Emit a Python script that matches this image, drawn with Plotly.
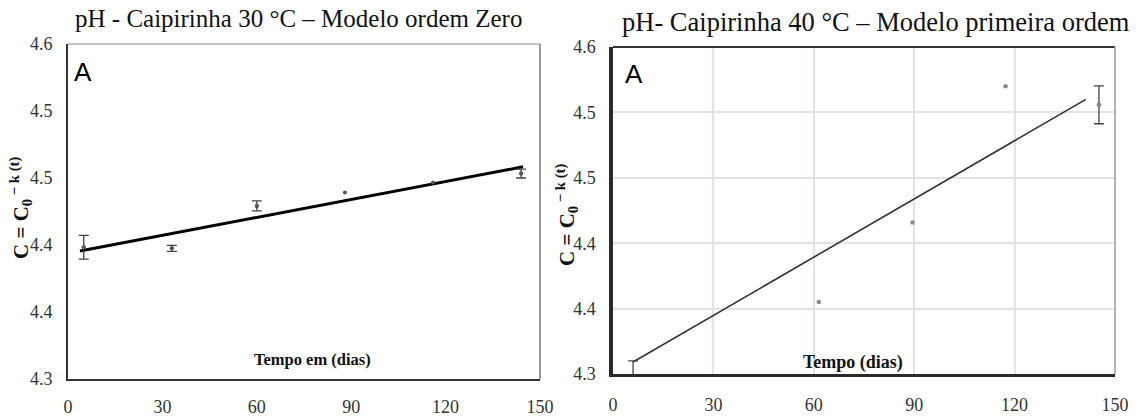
import plotly.graph_objects as go

W, H = 1143, 419

# ---------------- data ----------------
left_title = "pH - Caipirinha 30 °C – Modelo ordem Zero"
right_title = "pH- Caipirinha 40 °C – Modelo primeira ordem"

left_x = [5, 33, 60, 88, 116, 144]
left_y = [4.418, 4.417, 4.455, 4.467, 4.476, 4.484]
left_err = [0.0107, 0.0027, 0.0045, None, None, 0.004]
left_fit_x = [3.8, 144.6]
left_fit_y = [4.4146, 4.490]

right_x = [6, 61.5, 89.5, 117.3, 145.2]
right_y = [4.297, 4.366, 4.439, 4.564, 4.547]
right_err = [0.015, None, None, None, 0.0174]
right_fit_x = [6, 141.3]
right_fit_y = [4.311, 4.552]

x_ticks = [0, 30, 60, 90, 120, 150]
y_ticks = [4.30, 4.36, 4.42, 4.48, 4.54, 4.60]
y_ticktext = ["4.3", "4.4", "4.4", "4.5", "4.5", "4.6"]

left_xlabel = "Tempo em (dias)"
right_xlabel = "Tempo (dias)"
ylabel = "<b>C = C<sub>0</sub><sup> − k (t)</sup></b>"
panel_tag = "A"

SERIF = "Liberation Serif, Times New Roman, serif"
SANS = "Liberation Sans, Arial, sans-serif"


def px(p):
    return p / W


def py(p):
    return 1 - p / H


def with_err(xs, ys, es):
    keep = [i for i, e in enumerate(es) if e is not None]
    return [xs[i] for i in keep], [ys[i] for i in keep], [es[i] for i in keep]


fig = go.Figure()

# Left panel
fig.add_trace(go.Scatter(
    x=left_fit_x, y=left_fit_y, mode="lines",
    line=dict(color="#000000", width=3), xaxis="x", yaxis="y",
    showlegend=False, hoverinfo="skip"))
fig.add_trace(go.Scatter(
    x=left_x, y=left_y, mode="markers",
    marker=dict(size=4, color="#555555"),
    xaxis="x", yaxis="y", showlegend=False, cliponaxis=True))
lex, ley, lee = with_err(left_x, left_y, left_err)
fig.add_trace(go.Scatter(
    x=lex, y=ley, mode="markers",
    marker=dict(size=4, color="#555555"),
    error_y=dict(type="data", array=lee, color="#444444",
                 thickness=1.3, width=5),
    xaxis="x", yaxis="y", showlegend=False, cliponaxis=True))

# Right panel
fig.add_trace(go.Scatter(
    x=right_fit_x, y=right_fit_y, mode="lines",
    line=dict(color="#333333", width=1.6), xaxis="x2", yaxis="y2",
    showlegend=False, hoverinfo="skip"))
fig.add_trace(go.Scatter(
    x=right_x, y=right_y, mode="markers",
    marker=dict(size=4.5, color="#8a8a8a"),
    xaxis="x2", yaxis="y2", showlegend=False, cliponaxis=True))
rex, rey, ree = with_err(right_x, right_y, right_err)
fig.add_trace(go.Scatter(
    x=rex, y=rey, mode="markers",
    marker=dict(size=4.5, color="#8a8a8a"),
    error_y=dict(type="data", array=ree, color="#444444",
                 thickness=1.3, width=5),
    xaxis="x2", yaxis="y2", showlegend=False, cliponaxis=True))

tickfont = dict(family=SERIF, size=18, color="#333333")

fig.update_layout(
    width=W, height=H,
    margin=dict(l=0, r=0, t=0, b=0, autoexpand=False),
    paper_bgcolor="white", plot_bgcolor="white",
    xaxis=dict(domain=[px(68), px(540)], range=[0, 150],
               tickvals=x_ticks, showgrid=False, zeroline=False,
               showline=True, linecolor="#333333", linewidth=2,
               ticks="", tickfont=tickfont, ticklabelstandoff=10,
               anchor="y", automargin=False),
    yaxis=dict(domain=[py(379), py(44)], range=[4.3, 4.6],
               tickvals=y_ticks, ticktext=y_ticktext, showgrid=False,
               zeroline=False, showline=True, linecolor="#333333",
               linewidth=2, ticks="", tickfont=tickfont,
               ticklabelstandoff=10, anchor="x", automargin=False),
    xaxis2=dict(domain=[px(613), px(1115)], range=[0, 150],
                tickvals=x_ticks, showgrid=True, gridcolor="#dfe3ec",
                gridwidth=2, zeroline=False, showline=True,
                linecolor="#2a2a2a", linewidth=3, ticks="",
                tickfont=tickfont, ticklabelstandoff=12, anchor="y2",
                automargin=False),
    yaxis2=dict(domain=[py(374), py(47)], range=[4.3, 4.6],
                tickvals=y_ticks, ticktext=y_ticktext, showgrid=True,
                gridcolor="#dfe3ec", gridwidth=2, zeroline=False,
                showline=True, linecolor="#2a2a2a", linewidth=3.5,
                ticks="", tickfont=tickfont, ticklabelstandoff=10,
                anchor="x2", automargin=False),
)

# top / right borders
fig.add_shape(type="line", xref="x domain", yref="y domain",
              x0=0, x1=1, y0=1, y1=1, line=dict(color="#c4c4c4", width=2))
fig.add_shape(type="line", xref="x domain", yref="y domain",
              x0=1, x1=1, y0=0, y1=1, line=dict(color="#7a7a7a", width=1.5))
fig.add_shape(type="line", xref="x2 domain", yref="y2 domain",
              x0=0, x1=1, y0=1, y1=1, line=dict(color="#333333", width=2))
fig.add_shape(type="line", xref="x2 domain", yref="y2 domain",
              x0=1, x1=1, y0=0, y1=1, line=dict(color="#9a9a9a", width=1.5))

ann = [
    dict(text=left_title, x=px(299), y=py(19), font=dict(family=SERIF, size=25, color="#111111")),
    dict(text=right_title, x=px(876), y=py(22), font=dict(family=SERIF, size=26.5, color="#111111")),
    dict(text=panel_tag, x=px(83), y=py(72), font=dict(family=SANS, size=26, color="#000000")),
    dict(text=panel_tag, x=px(634), y=py(74), font=dict(family=SANS, size=26, color="#000000")),
    dict(text="<b>" + left_xlabel + "</b>", x=px(312), y=py(359), font=dict(family=SERIF, size=16.5, color="#111111")),
    dict(text="<b>" + right_xlabel + "</b>", x=px(853), y=py(362), font=dict(family=SERIF, size=18, color="#111111")),
    dict(text=ylabel, x=px(20), y=py(208), textangle=-90, font=dict(family=SERIF, size=21, color="#111111")),
    dict(text=ylabel, x=px(566), y=py(215), textangle=-90, font=dict(family=SERIF, size=21, color="#111111")),
]
for a in ann:
    fig.add_annotation(xref="paper", yref="paper", showarrow=False,
                       xanchor="center", yanchor="middle", **a)

fig.write_html(
    "out.html",
    config={"displayModeBar": False},
    post_script="document.body.style.margin='0';document.body.style.padding='0';",
)
